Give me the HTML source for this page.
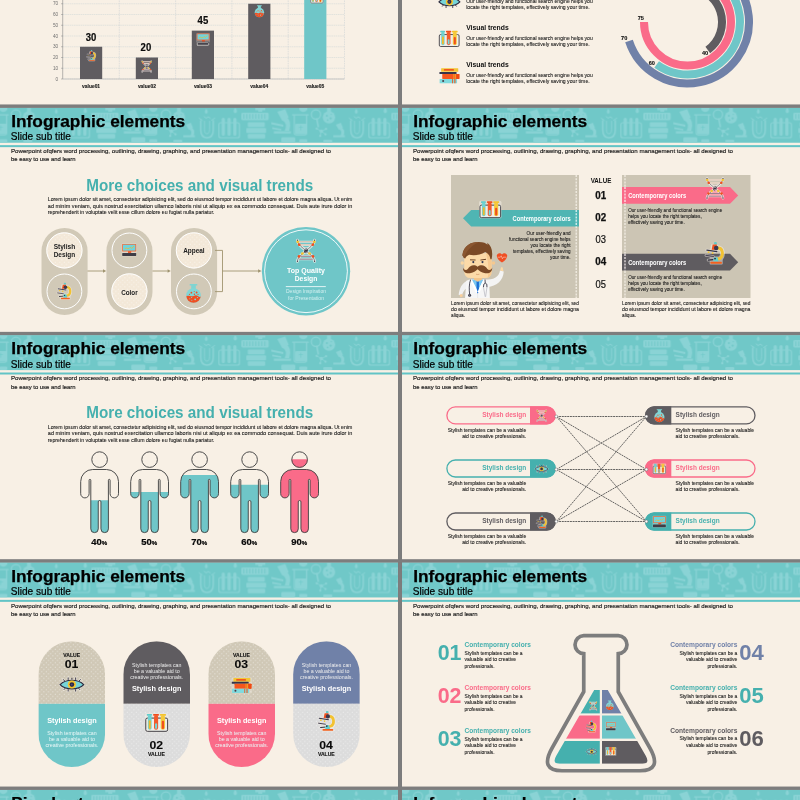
<!DOCTYPE html>
<html><head><meta charset="utf-8"><title>Infographic elements</title>
<style>html,body{margin:0;padding:0;background:#808080;overflow:hidden}svg{display:block;will-change:transform}</style></head>
<body>
<svg width="800" height="800" viewBox="0 0 800 800" font-family="'Liberation Sans', sans-serif">
<defs>
<symbol id="eye" viewBox="0 0 26 16" overflow="visible">
 <g stroke="#f4efe6" stroke-width="2.2" fill="#f4efe6" opacity=".85" stroke-linecap="round">
  <path d="M0.6,8.3 C6,2.2 20,2.2 25.4,8.3 C20,14.2 6,14.2 0.6,8.3Z"/>
  <path d="M9,2.6V0.8M17,2.6V0.8M5,4.2L3.6,2.6M21,4.2L22.4,2.6M9,13.8V15.4M17,13.8V15.4M5.4,12.4L4.2,13.8M20.6,12.4L21.8,13.8"/>
 </g>
 <path d="M9,2.8V1M17,2.8V1M5.2,4.3L4,2.9M20.8,4.3L22,2.9M9,13.6V15.2M17,13.6V15.2M5.6,12.3L4.6,13.5M20.4,12.3L21.4,13.5M13,2.5V1.4" stroke="#2f2c3e" stroke-width="1" stroke-linecap="round" fill="none"/>
 <path d="M0.4,8.3 C6,2 20,2 25.6,8.3 C20,14.4 6,14.4 0.4,8.3Z" fill="#76d4d8" stroke="#2f2c3e" stroke-width="1.3"/>
 <circle cx="13" cy="8.2" r="4.3" fill="#f6c42d"/>
 <circle cx="13" cy="8.2" r="2.5" fill="#2d2a47"/>
 <circle cx="12.8" cy="8.2" r="1" fill="#4b4a78"/>
</symbol>

<symbol id="tubes" viewBox="0 0 24 19" overflow="visible">
 <rect x="-.4" y="-.4" width="24.8" height="19.8" rx="2" fill="#f4efe6" opacity=".55"/>
 <rect x="0.6" y="4.6" width="22.8" height="13.8" rx="1.6" fill="#efeee8" stroke="#3c3a40" stroke-width="1"/>
 <rect x="1.6" y="0.2" width="5.6" height="2" rx=".8" fill="#5fcaca"/>
 <rect x="2.8" y="1.4" width="3.9" height="15.4" rx="1.9" fill="#6fd2d2"/>
 <rect x="3.7" y="6.8" width="2.1" height="9" rx="1" fill="#f3b829"/>
 <rect x="8.2" y="0.2" width="6.2" height="2" rx=".8" fill="#f04d1c"/>
 <rect x="9.2" y="1.4" width="4.3" height="15.4" rx="2.1" fill="#f25a2b"/>
 <rect x="10.3" y="10" width="2.1" height="5.8" rx="1" fill="#72dadb"/>
 <rect x="15.2" y="0.2" width="6.6" height="2" rx=".8" fill="#f4c22b"/>
 <rect x="16.2" y="1.4" width="4.5" height="15.4" rx="2.2" fill="#f6c93b"/>
 <rect x="17.3" y="7.4" width="2.4" height="8.5" rx="1.1" fill="#f0501e"/>
</symbol>

<symbol id="books" viewBox="0 0 20 15.5" overflow="visible">
 <rect x="-.5" y="-.4" width="21" height="16.2" rx="1.5" fill="#f4efe6" opacity=".3"/>
 <rect x="1.7" y="0.2" width="17" height="3.6" rx=".4" fill="#f3c534"/>
 <rect x="4.4" y="1.1" width="10" height="1.7" rx=".5" fill="#f2591f"/>
 <rect x="0" y="3.9" width="17" height="2" rx=".3" fill="#35344b"/>
 <rect x="2.8" y="5.9" width="17" height="5" rx=".4" fill="#f4571e"/>
 <rect x="13.9" y="5.9" width=".9" height="5" fill="#f3a52a"/>
 <rect x="15.4" y="5.9" width=".9" height="5" fill="#f3a52a"/>
 <rect x="16.8" y="5.9" width="3" height="5" rx=".4" fill="#ee4a12"/>
 <rect x="0.2" y="10.9" width="17.3" height="4.3" rx=".4" fill="#81dade"/>
 <circle cx="3.7" cy="13" r="1" fill="#4a3a44"/>
 <rect x="12.6" y="10.9" width=".9" height="4.3" fill="#f25a20"/>
 <rect x="14.8" y="10.9" width="1.1" height="4.3" fill="#f25a20"/>
</symbol>

<symbol id="micro" viewBox="0 0 17 20" overflow="visible">
 <g opacity=".55" fill="none" stroke="#f4efe6" stroke-linecap="round" stroke-linejoin="round">
  <path d="M11.5,5.5 C16.5,5.5 16.5,13 13.5,15.3" stroke-width="4.4"/>
  <path d="M6,3 L10,3 L10,7 L5.5,7Z" stroke-width="2" fill="#f4efe6"/>
  <path d="M1.3,7.4L10.5,8.8M0.4,12.3L7.4,13.3M2.4,16.6L7,16.2" stroke-width="2.4"/>
  <rect x="4.6" y="14" width="10.5" height="6" stroke-width="1.4" fill="#f4efe6"/>
 </g>
 <path d="M11.5,5.5 C16.3,5.5 16.6,12.6 13.6,15 L11.6,15.6" fill="none" stroke="#f2c231" stroke-width="2.7" stroke-linecap="round"/>
 <rect x="7.9" y="0" width="2.6" height="2.6" rx=".9" fill="#5fcaca"/>
 <path d="M6.6,2.4 L10.5,2.4 L10.5,7.4 L5.7,7.2Z" fill="#f0511f"/>
 <circle cx="9.9" cy="5.5" r="2.1" fill="#3a3850"/>
 <path d="M1.3,7.4L10.5,8.8" stroke="#35334a" stroke-width="1.1" stroke-linecap="round"/>
 <circle cx="2.9" cy="9.3" r=".85" fill="#f4c52e"/><circle cx="6.6" cy="10.2" r=".85" fill="#f4c52e"/>
 <path d="M0.5,12.3L7.4,13.3" stroke="#4a4555" stroke-width="1" stroke-linecap="round"/>
 <path d="M2.6,16.6L7,16.2" stroke="#2f2d3a" stroke-width="1" stroke-linecap="round"/>
 <path d="M7.4,18 V15.6 Q7.4,14 9,14 H10.4 Q11.8,14.4 11.9,18Z" fill="#62cfd0"/>
 <circle cx="8.8" cy="15.2" r=".85" fill="#2f2d3a"/>
 <rect x="4.6" y="18.1" width="10.5" height="1.8" rx=".4" fill="#f2611f"/>
</symbol>

<symbol id="dna" viewBox="0 0 20 23" overflow="visible">
 <g fill="none" stroke="#f6f1e8" stroke-width="2.8" opacity=".8" stroke-linecap="round">
  <path d="M1.4,0.9 C1.8,6 7,8.5 10,11.6 C13,14.8 18.2,17 18.6,22.1"/>
  <path d="M18.6,0.9 C18.2,6 13,8.5 10,11.6 C7,14.8 1.8,17 1.4,22.1"/>
  <path d="M3,2.5H17M4.5,5.7H15.5M4.5,17.1H15.5M3.2,20H16.8" stroke-width="2"/>
 </g>
 <path d="M3,2.5H17M4.6,5.7H15.4" stroke="#dcb9a6" stroke-width=".9"/>
 <path d="M4.6,17.1H15.4M3.2,20H16.8" stroke="#8e7184" stroke-width=".9"/>
 <path d="M6.5,8.4H13.5M6.5,14.6H13.5" stroke="#e9e3dc" stroke-width=".7"/>
 <path d="M1.4,0.9 C1.8,6 7,8.5 10,11.6 C13,14.8 18.2,17 18.6,22.1" fill="none" stroke="#5a4f60" stroke-width=".65"/>
 <path d="M18.6,0.9 C18.2,6 13,8.5 10,11.6 C7,14.8 1.8,17 1.4,22.1" fill="none" stroke="#5a4f60" stroke-width=".65"/>
 <ellipse cx="10" cy="11.6" rx="1.7" ry="2.3" fill="#3d3747" transform="rotate(35 10 11.6)"/>
 <ellipse cx="10" cy="10.4" rx="1" ry=".45" fill="#f4efe6"/><ellipse cx="10" cy="12.9" rx="1" ry=".45" fill="#f4efe6"/>
 <g fill="#f5c42d"><circle cx="1.7" cy="2.6" r="1.35"/><circle cx="18.3" cy="2.6" r="1.35"/><circle cx="6.4" cy="14.3" r="1.35"/><circle cx="13.6" cy="14.3" r="1.35"/></g>
 <g fill="#f0501e"><circle cx="3.2" cy="5.5" r="1.35"/><circle cx="16.8" cy="5.5" r="1.35"/><circle cx="3" cy="17.2" r="1.35"/><circle cx="17" cy="17.2" r="1.35"/></g>
 <g fill="#3d3747"><circle cx="1.4" cy="0.9" r=".6"/><circle cx="18.6" cy="0.9" r=".6"/><circle cx="1.4" cy="22.1" r=".6"/><circle cx="18.6" cy="22.1" r=".6"/></g>
</symbol>

<symbol id="monitor" viewBox="0 0 14.4 12.4" overflow="visible">
 <rect x="-.3" y="-.3" width="15" height="13" rx=".8" fill="#f4efe6" opacity=".35"/>
 <rect x="0.2" y="0.1" width="14" height="7.5" rx=".5" fill="#f26a3a"/>
 <rect x="1" y="0.9" width="12.4" height="5.9" fill="#70d4de"/>
 <path d="M2.6,5 L4.2,4.2 L5.6,4.8 L7.2,4.6 L8.4,3.4 L9.6,4.6 L11,3 L12.2,2.6" fill="none" stroke="#f2b92c" stroke-width=".8" stroke-linejoin="round"/>
 <rect x="6" y="7.5" width="3.2" height="1.6" fill="#f04e1e"/>
 <rect x="0.2" y="9.2" width="14" height="3" rx=".4" fill="#3f3d46"/>
</symbol>

<symbol id="flask" viewBox="0 0 14.6 18.8" overflow="visible">
 <clipPath id="flc"><circle cx="7.3" cy="11.4" r="7.3"/></clipPath>
 <rect x="3.4" y="0" width="7.8" height="1.5" rx=".7" fill="#7fd4d2"/>
 <rect x="5" y="1" width="4.6" height="5" fill="#7fd4d2"/>
 <circle cx="7.3" cy="11.4" r="7.3" fill="#82d6d6"/>
 <g clip-path="url(#flc)">
  <path d="M0,12 Q2,11.4 4,12 T8,11.6 T12,12.2 T15,11.8 V19 H0Z" fill="#f04f22"/>
 </g>
 <g fill="#f04f22"><circle cx="5.2" cy="8.6" r=".9"/><circle cx="10.4" cy="8.4" r=".9"/><circle cx="8.2" cy="10.2" r=".7"/><circle cx="8" cy="7.4" r=".5"/><circle cx="3.3" cy="10.2" r=".6"/><circle cx="11.8" cy="10.4" r=".6"/></g>
 <g fill="#82d6d6"><circle cx="9" cy="15.2" r=".9"/><circle cx="5.4" cy="13.4" r=".6"/><circle cx="3.6" cy="14.6" r=".5"/><circle cx="11.2" cy="13.4" r=".6"/><circle cx="5.6" cy="16.2" r=".5"/></g>
</symbol>

<pattern id="hp" width="150" height="40" patternUnits="userSpaceOnUse" x="47.3" y="0">
 <g fill="none" stroke="#8ad3d5" stroke-width="1.5" stroke-linecap="round" stroke-linejoin="round">
  <path d="M3.5,13 V22 Q3.5,30 9.7,30 Q16,30 16,22 V13"/><path d="M7.2,13.5 V21.5 Q7.2,26 9.7,26 Q12.3,26 12.3,21.5 V13.5" stroke-width=".9"/>
  <path d="M2,10.5 l3,2 M17.4,10.5 l-3,2 M7,9 l2,1.5 2,-1.5 2,1.5" stroke-width="1"/>
  <rect x="21.6" y="15" width="20.6" height="15" rx="2" stroke-width="1.2"/>
  <path d="M26,11.5 v15 M31.8,11.5 v15 M37.6,11.5 v15" stroke-width="3.2"/>
  <path d="M95.4,7.2 h15.6 M97,7.2 v17.8 q0,2.2 2.2,2.2 h8 q2.2,0 2.2,-2.2 v-17.8" stroke-width="1.2"/>
  <circle cx="118.7" cy="6.8" r="4.6" stroke-width="1.2"/><path d="M119.6,11.4 l1.4,7.4" stroke-width="1.6"/>
  <path d="M124,23.4 l-4.4,-2.4 M124,23.4 l4.6,-2 M124,23.4 l-1,4.6 M124,23.4 l4,3" stroke-width=".8"/>
 </g>
 <g fill="#8ad3d5">
  <rect x="44" y="5" width="27.4" height="7.4" rx="1.4"/>
  <rect x="50.5" y="14.6" width="17" height="4.6" rx="1"/><rect x="49" y="20.2" width="19.8" height="5" rx="1"/><rect x="50.5" y="26.2" width="17.4" height="4.6" rx="1"/>
  <path d="M80,4 l8,-2.4 3.4,8.2 -6.4,3.2z M88.6,9 q6.4,3.4 3.4,14 h-4.6 q3.4,-7.6 -2.4,-10.6z M76.6,23.4 h17 v2.4 h-17z M74,14.6 l12,2.4 v2 l-12,-2.4z M75,19.6 l9,1.6 v1.6 l-9,-1.6z"/>
  <rect x="98" y="16" width="11.4" height="10.2" rx="1.2"/>
  <circle cx="131.7" cy="9.6" r="6.2"/><rect x="129.8" y="0" width="3.8" height="4.6"/>
  <circle cx="124" cy="23.4" r="1.7"/><circle cx="119.4" cy="20.8" r="1.1"/><circle cx="128.8" cy="21.2" r="1.1"/><circle cx="123" cy="28.2" r="1.1"/><circle cx="128.2" cy="26.6" r="1.1"/>
  <path d="M138.6,17 l5,-2 2,5 -4,2z M144,19.6 q4.4,2.6 2.4,8 h-3 q2,-4.6 -1.6,-6z M136,27.6 h11.6 v1.8 h-11.6z"/>
  <path d="M9,1 q3,3.6 0,5 q-3,-1.4 0,-5z M38,0 q3.4,4 0,5.6 q-3.4,-1.6 0,-5.6z"/>
  <path d="M102,0 h8 v2 q-4,4.4 -8,0z"/>
  <rect x="84" y="29.6" width="14" height="5.4" rx="1.4"/><rect x="102" y="31.4" width="8" height="3.6" rx="1"/><rect x="126" y="32" width="9" height="3" rx="1"/>
  <path d="M58,0 h10 v2.4 h-10z M61,2.4 h4 v1.6 h-4z"/>
 </g>
 <g fill="#70c8c8"><circle cx="129.6" cy="8" r="1"/><circle cx="133.4" cy="10.6" r="1.1"/><circle cx="130.4" cy="12.4" r=".8"/><circle cx="134" cy="6.6" r=".7"/>
  <path d="M46.6,6.4v4.6M49.6,6.4v4.6M52.6,6.4v4.6M55.6,6.4v4.6M58.6,6.4v4.6M61.6,6.4v4.6M64.6,6.4v4.6M67.6,6.4v4.6" stroke="#70c8c8" stroke-width=".8"/>
  <path d="M103.6,17.6v5M101.6,19.6h4" stroke="#70c8c8" stroke-width=".7"/>
 </g>
</pattern>
<pattern id="dots" width="4.5" height="4.5" patternUnits="userSpaceOnUse">
 <circle cx="1.2" cy="1.2" r=".48" fill="#fff" opacity=".8"/><circle cx="3.45" cy="3.45" r=".48" fill="#fff" opacity=".8"/>
</pattern>
</defs>
<rect x="0.00" y="0.00" width="800.00" height="800.00" fill="#7d7d7d"/>
<rect x="0.00" y="-119.60" width="398.00" height="224.50" fill="#f8f0e5"/>
<rect x="0.00" y="107.75" width="398.00" height="225.00" fill="#f8f0e5"/>
<rect x="0.00" y="107.75" width="398.00" height="35.00" fill="#70c8c8"/>
<g transform="translate(0,107.75)"><rect x="0" y="0" width="398" height="35" fill="url(#hp)"/></g>
<rect x="0.00" y="145.15" width="398.00" height="2.00" fill="#62c4c6"/>
<text x="11.20" y="126.95" font-size="17.2" fill="#000" font-weight="bold" textLength="174.00" lengthAdjust="spacingAndGlyphs" stroke="#000" stroke-width=".25">Infographic elements</text>
<text x="10.80" y="140.45" font-size="10" fill="#000" stroke="#000" stroke-width=".2" textLength="60.00" lengthAdjust="spacingAndGlyphs">Slide sub title</text>
<text x="11.00" y="152.85" font-size="5.9" fill="#1a1a1a" stroke="#1a1a1a" stroke-width="0.16" textLength="320.00" lengthAdjust="spacingAndGlyphs">Powerpoint ofqfers word processing, outlining, drawing, graphing, and presentation management tools- all designed to</text>
<text x="11.00" y="161.35" font-size="5.9" fill="#1a1a1a" stroke="#1a1a1a" stroke-width="0.16" textLength="64.50" lengthAdjust="spacingAndGlyphs">be easy to use and learn</text>
<rect x="0.00" y="335.10" width="398.00" height="225.00" fill="#f8f0e5"/>
<rect x="0.00" y="335.10" width="398.00" height="35.00" fill="#70c8c8"/>
<g transform="translate(0,335.10)"><rect x="0" y="0" width="398" height="35" fill="url(#hp)"/></g>
<rect x="0.00" y="372.50" width="398.00" height="2.00" fill="#62c4c6"/>
<text x="11.20" y="354.30" font-size="17.2" fill="#000" font-weight="bold" textLength="174.00" lengthAdjust="spacingAndGlyphs" stroke="#000" stroke-width=".25">Infographic elements</text>
<text x="10.80" y="367.80" font-size="10" fill="#000" stroke="#000" stroke-width=".2" textLength="60.00" lengthAdjust="spacingAndGlyphs">Slide sub title</text>
<text x="11.00" y="380.20" font-size="5.9" fill="#1a1a1a" stroke="#1a1a1a" stroke-width="0.16" textLength="320.00" lengthAdjust="spacingAndGlyphs">Powerpoint ofqfers word processing, outlining, drawing, graphing, and presentation management tools- all designed to</text>
<text x="11.00" y="388.70" font-size="5.9" fill="#1a1a1a" stroke="#1a1a1a" stroke-width="0.16" textLength="64.50" lengthAdjust="spacingAndGlyphs">be easy to use and learn</text>
<rect x="0.00" y="562.45" width="398.00" height="225.00" fill="#f8f0e5"/>
<rect x="0.00" y="562.45" width="398.00" height="35.00" fill="#70c8c8"/>
<g transform="translate(0,562.45)"><rect x="0" y="0" width="398" height="35" fill="url(#hp)"/></g>
<rect x="0.00" y="599.85" width="398.00" height="2.00" fill="#62c4c6"/>
<text x="11.20" y="581.65" font-size="17.2" fill="#000" font-weight="bold" textLength="174.00" lengthAdjust="spacingAndGlyphs" stroke="#000" stroke-width=".25">Infographic elements</text>
<text x="10.80" y="595.15" font-size="10" fill="#000" stroke="#000" stroke-width=".2" textLength="60.00" lengthAdjust="spacingAndGlyphs">Slide sub title</text>
<text x="11.00" y="607.55" font-size="5.9" fill="#1a1a1a" stroke="#1a1a1a" stroke-width="0.16" textLength="320.00" lengthAdjust="spacingAndGlyphs">Powerpoint ofqfers word processing, outlining, drawing, graphing, and presentation management tools- all designed to</text>
<text x="11.00" y="616.05" font-size="5.9" fill="#1a1a1a" stroke="#1a1a1a" stroke-width="0.16" textLength="64.50" lengthAdjust="spacingAndGlyphs">be easy to use and learn</text>
<rect x="0.00" y="789.80" width="398.00" height="225.00" fill="#f8f0e5"/>
<rect x="0.00" y="789.80" width="398.00" height="35.00" fill="#70c8c8"/>
<g transform="translate(0,789.80)"><rect x="0" y="0" width="398" height="35" fill="url(#hp)"/></g>
<rect x="0.00" y="827.20" width="398.00" height="2.00" fill="#62c4c6"/>
<text x="11.20" y="809.00" font-size="17.2" fill="#000" font-weight="bold" stroke="#000" stroke-width=".25">Pie chart</text>
<text x="10.80" y="822.50" font-size="10" fill="#000" stroke="#000" stroke-width=".2" textLength="60.00" lengthAdjust="spacingAndGlyphs">Slide sub title</text>
<text x="11.00" y="834.90" font-size="5.9" fill="#1a1a1a" stroke="#1a1a1a" stroke-width="0.16" textLength="320.00" lengthAdjust="spacingAndGlyphs">Powerpoint ofqfers word processing, outlining, drawing, graphing, and presentation management tools- all designed to</text>
<text x="11.00" y="843.40" font-size="5.9" fill="#1a1a1a" stroke="#1a1a1a" stroke-width="0.16" textLength="64.50" lengthAdjust="spacingAndGlyphs">be easy to use and learn</text>
<rect x="402.00" y="-119.60" width="398.00" height="224.50" fill="#f8f0e5"/>
<rect x="402.00" y="107.75" width="398.00" height="225.00" fill="#f8f0e5"/>
<rect x="402.00" y="107.75" width="398.00" height="35.00" fill="#70c8c8"/>
<g transform="translate(402,107.75)"><rect x="0" y="0" width="398" height="35" fill="url(#hp)"/></g>
<rect x="402.00" y="145.15" width="398.00" height="2.00" fill="#62c4c6"/>
<text x="413.20" y="126.95" font-size="17.2" fill="#000" font-weight="bold" textLength="174.00" lengthAdjust="spacingAndGlyphs" stroke="#000" stroke-width=".25">Infographic elements</text>
<text x="412.80" y="140.45" font-size="10" fill="#000" stroke="#000" stroke-width=".2" textLength="60.00" lengthAdjust="spacingAndGlyphs">Slide sub title</text>
<text x="413.00" y="152.85" font-size="5.9" fill="#1a1a1a" stroke="#1a1a1a" stroke-width="0.16" textLength="320.00" lengthAdjust="spacingAndGlyphs">Powerpoint ofqfers word processing, outlining, drawing, graphing, and presentation management tools- all designed to</text>
<text x="413.00" y="161.35" font-size="5.9" fill="#1a1a1a" stroke="#1a1a1a" stroke-width="0.16" textLength="64.50" lengthAdjust="spacingAndGlyphs">be easy to use and learn</text>
<rect x="402.00" y="335.10" width="398.00" height="225.00" fill="#f8f0e5"/>
<rect x="402.00" y="335.10" width="398.00" height="35.00" fill="#70c8c8"/>
<g transform="translate(402,335.10)"><rect x="0" y="0" width="398" height="35" fill="url(#hp)"/></g>
<rect x="402.00" y="372.50" width="398.00" height="2.00" fill="#62c4c6"/>
<text x="413.20" y="354.30" font-size="17.2" fill="#000" font-weight="bold" textLength="174.00" lengthAdjust="spacingAndGlyphs" stroke="#000" stroke-width=".25">Infographic elements</text>
<text x="412.80" y="367.80" font-size="10" fill="#000" stroke="#000" stroke-width=".2" textLength="60.00" lengthAdjust="spacingAndGlyphs">Slide sub title</text>
<text x="413.00" y="380.20" font-size="5.9" fill="#1a1a1a" stroke="#1a1a1a" stroke-width="0.16" textLength="320.00" lengthAdjust="spacingAndGlyphs">Powerpoint ofqfers word processing, outlining, drawing, graphing, and presentation management tools- all designed to</text>
<text x="413.00" y="388.70" font-size="5.9" fill="#1a1a1a" stroke="#1a1a1a" stroke-width="0.16" textLength="64.50" lengthAdjust="spacingAndGlyphs">be easy to use and learn</text>
<rect x="402.00" y="562.45" width="398.00" height="225.00" fill="#f8f0e5"/>
<rect x="402.00" y="562.45" width="398.00" height="35.00" fill="#70c8c8"/>
<g transform="translate(402,562.45)"><rect x="0" y="0" width="398" height="35" fill="url(#hp)"/></g>
<rect x="402.00" y="599.85" width="398.00" height="2.00" fill="#62c4c6"/>
<text x="413.20" y="581.65" font-size="17.2" fill="#000" font-weight="bold" textLength="174.00" lengthAdjust="spacingAndGlyphs" stroke="#000" stroke-width=".25">Infographic elements</text>
<text x="412.80" y="595.15" font-size="10" fill="#000" stroke="#000" stroke-width=".2" textLength="60.00" lengthAdjust="spacingAndGlyphs">Slide sub title</text>
<text x="413.00" y="607.55" font-size="5.9" fill="#1a1a1a" stroke="#1a1a1a" stroke-width="0.16" textLength="320.00" lengthAdjust="spacingAndGlyphs">Powerpoint ofqfers word processing, outlining, drawing, graphing, and presentation management tools- all designed to</text>
<text x="413.00" y="616.05" font-size="5.9" fill="#1a1a1a" stroke="#1a1a1a" stroke-width="0.16" textLength="64.50" lengthAdjust="spacingAndGlyphs">be easy to use and learn</text>
<rect x="402.00" y="789.80" width="398.00" height="225.00" fill="#f8f0e5"/>
<rect x="402.00" y="789.80" width="398.00" height="35.00" fill="#70c8c8"/>
<g transform="translate(402,789.80)"><rect x="0" y="0" width="398" height="35" fill="url(#hp)"/></g>
<rect x="402.00" y="827.20" width="398.00" height="2.00" fill="#62c4c6"/>
<text x="413.20" y="809.00" font-size="17.2" fill="#000" font-weight="bold" textLength="174.00" lengthAdjust="spacingAndGlyphs" stroke="#000" stroke-width=".25">Infographic elements</text>
<text x="412.80" y="822.50" font-size="10" fill="#000" stroke="#000" stroke-width=".2" textLength="60.00" lengthAdjust="spacingAndGlyphs">Slide sub title</text>
<text x="413.00" y="834.90" font-size="5.9" fill="#1a1a1a" stroke="#1a1a1a" stroke-width="0.16" textLength="320.00" lengthAdjust="spacingAndGlyphs">Powerpoint ofqfers word processing, outlining, drawing, graphing, and presentation management tools- all designed to</text>
<text x="413.00" y="843.40" font-size="5.9" fill="#1a1a1a" stroke="#1a1a1a" stroke-width="0.16" textLength="64.50" lengthAdjust="spacingAndGlyphs">be easy to use and learn</text>
<path d="M63.0,79.00H344.5" stroke="#d9dcda" stroke-width=".7" stroke-dasharray="1.6,.6"/>
<path d="M61.0,79.00H63.0" stroke="#8a8a8a" stroke-width=".5"/>
<text x="58.20" y="80.70" font-size="4.7" fill="#707070" text-anchor="end">0</text>
<path d="M63.0,68.25H344.5" stroke="#d9dcda" stroke-width=".7" stroke-dasharray="1.6,.6"/>
<path d="M61.0,68.25H63.0" stroke="#8a8a8a" stroke-width=".5"/>
<text x="58.20" y="69.95" font-size="4.7" fill="#707070" text-anchor="end">10</text>
<path d="M63.0,57.50H344.5" stroke="#d9dcda" stroke-width=".7" stroke-dasharray="1.6,.6"/>
<path d="M61.0,57.50H63.0" stroke="#8a8a8a" stroke-width=".5"/>
<text x="58.20" y="59.20" font-size="4.7" fill="#707070" text-anchor="end">20</text>
<path d="M63.0,46.75H344.5" stroke="#d9dcda" stroke-width=".7" stroke-dasharray="1.6,.6"/>
<path d="M61.0,46.75H63.0" stroke="#8a8a8a" stroke-width=".5"/>
<text x="58.20" y="48.45" font-size="4.7" fill="#707070" text-anchor="end">30</text>
<path d="M63.0,36.00H344.5" stroke="#d9dcda" stroke-width=".7" stroke-dasharray="1.6,.6"/>
<path d="M61.0,36.00H63.0" stroke="#8a8a8a" stroke-width=".5"/>
<text x="58.20" y="37.70" font-size="4.7" fill="#707070" text-anchor="end">40</text>
<path d="M63.0,25.25H344.5" stroke="#d9dcda" stroke-width=".7" stroke-dasharray="1.6,.6"/>
<path d="M61.0,25.25H63.0" stroke="#8a8a8a" stroke-width=".5"/>
<text x="58.20" y="26.95" font-size="4.7" fill="#707070" text-anchor="end">50</text>
<path d="M63.0,14.50H344.5" stroke="#d9dcda" stroke-width=".7" stroke-dasharray="1.6,.6"/>
<path d="M61.0,14.50H63.0" stroke="#8a8a8a" stroke-width=".5"/>
<text x="58.20" y="16.20" font-size="4.7" fill="#707070" text-anchor="end">60</text>
<path d="M63.0,3.75H344.5" stroke="#d9dcda" stroke-width=".7" stroke-dasharray="1.6,.6"/>
<path d="M61.0,3.75H63.0" stroke="#8a8a8a" stroke-width=".5"/>
<text x="58.20" y="5.45" font-size="4.7" fill="#707070" text-anchor="end">70</text>
<path d="M119.30,-2V79.0" stroke="#d5d9d8" stroke-width=".7" stroke-dasharray="1.6,.8"/>
<path d="M175.60,-2V79.0" stroke="#d5d9d8" stroke-width=".7" stroke-dasharray="1.6,.8"/>
<path d="M231.90,-2V79.0" stroke="#d5d9d8" stroke-width=".7" stroke-dasharray="1.6,.8"/>
<path d="M288.20,-2V79.0" stroke="#d5d9d8" stroke-width=".7" stroke-dasharray="1.6,.8"/>
<path d="M344.50,-2V79.0" stroke="#d5d9d8" stroke-width=".7" stroke-dasharray="1.6,.8"/>
<path d="M62.7,-2V79.0" stroke="#8a8a8a" stroke-width=".6"/>
<path d="M63.0,79.0H344.5" stroke="#b8b8b8" stroke-width=".7"/>
<rect x="80.00" y="46.75" width="22.20" height="32.25" fill="#5f5c60"/>
<text x="91.10" y="87.80" font-size="5.0" fill="#1a1a1a" text-anchor="middle" font-weight="bold" stroke="#1a1a1a" stroke-width=".12" textLength="18.00" lengthAdjust="spacingAndGlyphs">value01</text>
<text x="91.10" y="40.55" font-size="11" fill="#0a0a0a" text-anchor="middle" font-weight="bold" textLength="10.60" lengthAdjust="spacingAndGlyphs" stroke="#0a0a0a" stroke-width=".2">30</text>
<rect x="135.80" y="57.50" width="22.20" height="21.50" fill="#5f5c60"/>
<text x="146.90" y="87.80" font-size="5.0" fill="#1a1a1a" text-anchor="middle" font-weight="bold" stroke="#1a1a1a" stroke-width=".12" textLength="18.00" lengthAdjust="spacingAndGlyphs">value02</text>
<text x="145.90" y="51.30" font-size="11" fill="#0a0a0a" text-anchor="middle" font-weight="bold" textLength="10.60" lengthAdjust="spacingAndGlyphs" stroke="#0a0a0a" stroke-width=".2">20</text>
<rect x="191.80" y="30.62" width="22.20" height="48.38" fill="#5f5c60"/>
<text x="202.90" y="87.80" font-size="5.0" fill="#1a1a1a" text-anchor="middle" font-weight="bold" stroke="#1a1a1a" stroke-width=".12" textLength="18.00" lengthAdjust="spacingAndGlyphs">value03</text>
<text x="202.90" y="24.43" font-size="11" fill="#0a0a0a" text-anchor="middle" font-weight="bold" textLength="10.60" lengthAdjust="spacingAndGlyphs" stroke="#0a0a0a" stroke-width=".2">45</text>
<rect x="248.20" y="3.75" width="22.20" height="75.25" fill="#5f5c60"/>
<text x="259.30" y="87.80" font-size="5.0" fill="#1a1a1a" text-anchor="middle" font-weight="bold" stroke="#1a1a1a" stroke-width=".12" textLength="18.00" lengthAdjust="spacingAndGlyphs">value04</text>
<rect x="304.20" y="-39.25" width="22.20" height="118.25" fill="#6fc6c8"/>
<text x="315.30" y="87.80" font-size="5.0" fill="#1a1a1a" text-anchor="middle" font-weight="bold" stroke="#1a1a1a" stroke-width=".12" textLength="18.00" lengthAdjust="spacingAndGlyphs">value05</text>
<use href="#micro" x="86.60" y="50.00" width="9.20" height="11.00"/>
<use href="#dna" x="141.40" y="60.20" width="10.60" height="12.60"/>
<use href="#monitor" x="196.60" y="33.40" width="13.00" height="11.20"/>
<rect x="197.6" y="42.8" width="11" height="2.6" fill="none" stroke="#e8e4dc" stroke-width=".5"/>
<use href="#flask" x="254.60" y="5.20" width="9.60" height="12.20"/>
<use href="#tubes" x="310.40" y="-7.80" width="13.00" height="12.00"/>
<text x="466.20" y="-7.10" font-size="7.2" fill="#0d0d0d" font-weight="bold" textLength="42.50" lengthAdjust="spacingAndGlyphs">Visual trends</text>
<text x="466.20" y="2.70" font-size="5.5" fill="#1a1a1a" stroke="#1a1a1a" stroke-width="0.09" textLength="126.50" lengthAdjust="spacingAndGlyphs">Our user-friendly and functional search engine helps you</text>
<text x="466.20" y="9.00" font-size="5.5" fill="#1a1a1a" stroke="#1a1a1a" stroke-width="0.09" textLength="123.50" lengthAdjust="spacingAndGlyphs">locate the right templates, effectively saving your time.</text>
<text x="466.20" y="29.90" font-size="7.2" fill="#0d0d0d" font-weight="bold" textLength="42.50" lengthAdjust="spacingAndGlyphs">Visual trends</text>
<text x="466.20" y="39.70" font-size="5.5" fill="#1a1a1a" stroke="#1a1a1a" stroke-width="0.09" textLength="126.50" lengthAdjust="spacingAndGlyphs">Our user-friendly and functional search engine helps you</text>
<text x="466.20" y="46.00" font-size="5.5" fill="#1a1a1a" stroke="#1a1a1a" stroke-width="0.09" textLength="123.50" lengthAdjust="spacingAndGlyphs">locate the right templates, effectively saving your time.</text>
<text x="466.20" y="66.90" font-size="7.2" fill="#0d0d0d" font-weight="bold" textLength="42.50" lengthAdjust="spacingAndGlyphs">Visual trends</text>
<text x="466.20" y="76.70" font-size="5.5" fill="#1a1a1a" stroke="#1a1a1a" stroke-width="0.09" textLength="126.50" lengthAdjust="spacingAndGlyphs">Our user-friendly and functional search engine helps you</text>
<text x="466.20" y="83.00" font-size="5.5" fill="#1a1a1a" stroke="#1a1a1a" stroke-width="0.09" textLength="123.50" lengthAdjust="spacingAndGlyphs">locate the right templates, effectively saving your time.</text>
<use href="#eye" x="438.60" y="-5.00" width="21.60" height="13.30"/>
<use href="#tubes" x="438.80" y="30.40" width="20.80" height="16.80"/>
<use href="#books" x="439.00" y="68.00" width="21.00" height="15.60"/>
<path d="M687.5,-39.5 A61.5,61.5 0 1 1 629.01,41.00" fill="none" stroke="#7081a8" stroke-width="8"/>
<path d="M687.5,-30.5 A52.5,52.5 0 1 1 656.64,64.47" fill="none" stroke="#6fc6c8" stroke-width="8"/>
<path d="M687.5,-21.5 A43.5,43.5 0 1 1 644.00,22.00" fill="none" stroke="#fa6b89" stroke-width="8"/>
<path d="M687.5,-12.5 A34.5,34.5 0 0 1 707.78,49.91" fill="none" stroke="#5f5c60" stroke-width="8"/>
<text x="640.80" y="20.00" font-size="5.6" fill="#111" text-anchor="middle" font-weight="bold" stroke="#111" stroke-width=".12">75</text>
<text x="624.20" y="39.50" font-size="5.6" fill="#111" text-anchor="middle" font-weight="bold" stroke="#111" stroke-width=".12">70</text>
<text x="651.80" y="65.00" font-size="5.6" fill="#111" text-anchor="middle" font-weight="bold" stroke="#111" stroke-width=".12">60</text>
<text x="705.00" y="55.00" font-size="5.6" fill="#111" text-anchor="middle" font-weight="bold" stroke="#111" stroke-width=".12">40</text>
<text x="86.20" y="190.55" font-size="15.9" fill="#45b0ae" font-weight="bold" textLength="227.00" lengthAdjust="spacingAndGlyphs">More choices and visual trends</text>
<text x="47.80" y="201.25" font-size="5.0" fill="#1a1a1a" stroke="#1a1a1a" stroke-width="0.09" textLength="304.50" lengthAdjust="spacingAndGlyphs">Lorem ipsum dolor sit amet, consectetur adipisicing elit, sed do eiusmod tempor incididunt ut labore et dolore magna aliqua. Ut enim</text>
<text x="47.80" y="207.75" font-size="5.0" fill="#1a1a1a" stroke="#1a1a1a" stroke-width="0.09" textLength="304.50" lengthAdjust="spacingAndGlyphs">ad minim veniam, quis nostrud exercitation ullamco laboris nisi ut aliquip ex ea commodo consequat. Duis aute irure dolor in</text>
<text x="47.80" y="214.25" font-size="5.0" fill="#1a1a1a" stroke="#1a1a1a" stroke-width="0.09" textLength="166.50" lengthAdjust="spacingAndGlyphs">reprehenderit in voluptate velit esse cillum dolore eu fugiat nulla pariatur.</text>
<rect x="41.50" y="228.00" width="46.10" height="87.00" fill="#d1c9b7" rx="23.05"/>
<rect x="106.40" y="228.00" width="46.10" height="87.00" fill="#d1c9b7" rx="23.05"/>
<rect x="171.00" y="228.00" width="46.10" height="87.00" fill="#d1c9b7" rx="23.05"/>
<circle cx="64.4" cy="250.4" r="18" fill="#f3e8d8"/><circle cx="64.4" cy="250.4" r="18" fill="url(#dots)"/><circle cx="64.4" cy="250.4" r="17.6" fill="none" stroke="#fff" stroke-width="1"/>
<circle cx="64.4" cy="291.4" r="17.4" fill="none" stroke="#fff" stroke-width="1"/>
<circle cx="129.4" cy="250.4" r="17.4" fill="none" stroke="#fff" stroke-width="1"/>
<circle cx="129.4" cy="291.4" r="18" fill="#f3e8d8"/><circle cx="129.4" cy="291.4" r="18" fill="url(#dots)"/><circle cx="129.4" cy="291.4" r="17.6" fill="none" stroke="#fff" stroke-width="1"/>
<circle cx="193.9" cy="250.4" r="18" fill="#f3e8d8"/><circle cx="193.9" cy="250.4" r="18" fill="url(#dots)"/><circle cx="193.9" cy="250.4" r="17.6" fill="none" stroke="#fff" stroke-width="1"/>
<circle cx="193.9" cy="291.4" r="17.4" fill="none" stroke="#fff" stroke-width="1"/>
<text x="64.40" y="249.40" font-size="6.6" fill="#222" text-anchor="middle" font-weight="bold" textLength="21.50" lengthAdjust="spacingAndGlyphs">Stylish</text>
<text x="64.40" y="257.00" font-size="6.6" fill="#222" text-anchor="middle" font-weight="bold" textLength="21.50" lengthAdjust="spacingAndGlyphs">Design</text>
<text x="129.40" y="294.90" font-size="6.6" fill="#222" text-anchor="middle" font-weight="bold" textLength="16.50" lengthAdjust="spacingAndGlyphs">Color</text>
<text x="193.90" y="253.20" font-size="6.6" fill="#222" text-anchor="middle" font-weight="bold" textLength="21.50" lengthAdjust="spacingAndGlyphs">Appeal</text>
<use href="#micro" x="57.20" y="282.20" width="14.20" height="17.60"/>
<use href="#monitor" x="122.00" y="243.80" width="14.40" height="12.40"/>
<use href="#flask" x="186.20" y="284.10" width="14.60" height="18.80"/>
<path d="M87.5,271H104.2" stroke="#a0946f" stroke-width=".9"/><path d="M106.2,271l-3.2,-1.7v3.4z" fill="#a0946f"/>
<path d="M152.5,271H168.8" stroke="#a0946f" stroke-width=".9"/><path d="M170.8,271l-3.2,-1.7v3.4z" fill="#a0946f"/>
<path d="M215,250.4H222.5V291.6H215" fill="none" stroke="#a0946f" stroke-width=".9"/>
<path d="M222.5,271H259" stroke="#a0946f" stroke-width=".9"/><path d="M261.5,271l-3.4,-1.8v3.6z" fill="#a0946f"/>
<circle cx="306" cy="271.2" r="44.2" fill="#6fc6c8"/><circle cx="306" cy="271.2" r="41.4" fill="none" stroke="#fff" stroke-width=".9"/>
<use href="#dna" x="296.00" y="239.20" width="20.00" height="23.00"/>
<text x="306.00" y="272.80" font-size="6.6" fill="#fff" text-anchor="middle" font-weight="bold" textLength="38.00" lengthAdjust="spacingAndGlyphs">Top Quality</text>
<text x="306.00" y="280.60" font-size="6.6" fill="#fff" text-anchor="middle" font-weight="bold" textLength="22.50" lengthAdjust="spacingAndGlyphs">Design</text>
<path d="M285.8,286.6H325.8" stroke="#fff" stroke-width=".8"/>
<text x="306.00" y="293.30" font-size="5.1" fill="#d4f0f0" text-anchor="middle" textLength="40.00" lengthAdjust="spacingAndGlyphs">Design Inspiration</text>
<text x="306.00" y="299.60" font-size="5.1" fill="#d4f0f0" text-anchor="middle" textLength="36.00" lengthAdjust="spacingAndGlyphs">for Presentation</text>
<rect x="451.00" y="175.00" width="128.00" height="123.00" fill="#ccc5b4"/>
<path d="M576.2,175V298" stroke="#f6f2e9" stroke-width="1.15" stroke-dasharray="2.1,1.1"/>
<path d="M463,218.2L471.2,210H579V226.4H471.2Z" fill="#4fb5b3"/>
<path d="M576.2,210V226.4" stroke="#eefaf9" stroke-width="1.15" stroke-dasharray="2.1,1.1"/>
<use href="#tubes" x="479.40" y="201.00" width="21.80" height="17.20"/>
<text x="570.60" y="220.90" font-size="6.3" fill="#fff" text-anchor="end" font-weight="bold" textLength="58.00" lengthAdjust="spacingAndGlyphs">Contemporary colors</text>
<text x="570.60" y="234.50" font-size="5.0" fill="#1a1a1a" text-anchor="end" stroke="#1a1a1a" stroke-width="0.09" textLength="44.00" lengthAdjust="spacingAndGlyphs">Our user-friendly and</text>
<text x="570.60" y="240.55" font-size="5.0" fill="#1a1a1a" text-anchor="end" stroke="#1a1a1a" stroke-width="0.09" textLength="61.50" lengthAdjust="spacingAndGlyphs">functional search engine helps</text>
<text x="570.60" y="246.60" font-size="5.0" fill="#1a1a1a" text-anchor="end" stroke="#1a1a1a" stroke-width="0.09" textLength="40.00" lengthAdjust="spacingAndGlyphs">you locate the right</text>
<text x="570.60" y="252.65" font-size="5.0" fill="#1a1a1a" text-anchor="end" stroke="#1a1a1a" stroke-width="0.09" textLength="57.50" lengthAdjust="spacingAndGlyphs">templates, effectively saving</text>
<text x="570.60" y="258.70" font-size="5.0" fill="#1a1a1a" text-anchor="end" stroke="#1a1a1a" stroke-width="0.09" textLength="20.50" lengthAdjust="spacingAndGlyphs">your time.</text>
<clipPath id="docclip"><rect x="451" y="236" width="128" height="62"/></clipPath><g clip-path="url(#docclip)"><path d="M467.20,280.80 C462.00,283.20 459.60,288.00 458.64,294.80 L462.00,295.60 C463.20,290.40 466.00,288.00 468.80,287.20Z" fill="#f1f1f1"/><circle cx="461.2" cy="295.6" r="1.5" fill="#f9cf9c"/><path d="M485.20,279.60 C493.20,279.60 498.80,277.60 500.00,270.40 L503.76,271.60 C503.20,280.80 496.40,286.40 487.60,287.20Z" fill="#f4f4f4"/><path d="M500.24,270.56 L500.80,268.00 Q502.00,266.00 502.80,268.00 L503.44,271.20Z" fill="#fbd8a4"/><path d="M466.40,280.80 Q468.40,279.20 472.40,279.20 L483.60,279.20 Q487.60,279.60 489.20,283.20 L490.00,300.80 L464.80,300.80 Z" fill="#f6f6f6"/><path d="M477.60,288.80 L477.60,300.80" stroke="#dcdcdc" stroke-width=".5"/><path d="M471.76,279.60 L483.44,279.60 L477.84,291.20Z" fill="#7cc8f2"/><path d="M476.56,281.20 L478.96,281.20 L478.96,292.00 L477.76,293.60 L476.56,292.00Z" fill="#1e6fd2"/><path d="M471.76,279.60 L470.00,280.80 L476.40,293.60 L477.60,291.20Z" fill="#ffffff"/><path d="M483.44,279.60 L485.20,280.80 L478.96,293.60 L477.84,291.20Z" fill="#ffffff"/><path d="M470.64,279.60 C468.80,284.00 469.20,290.40 469.60,294.00" fill="none" stroke="#3b3a48" stroke-width=".9"/><circle cx="469.6" cy="295.2" r="1.5" fill="#3b3a48"/><circle cx="469.6" cy="295.2" r=".6" fill="#8a8a9a"/><path d="M485.04,279.60 L485.20,283.20" fill="none" stroke="#3b3a48" stroke-width=".9"/><path d="M483.44,287.20 Q483.20,283.20 485.36,283.20 Q487.44,283.20 486.96,287.20" fill="none" stroke="#3b3a48" stroke-width=".9"/><path d="M483.44,287.20 L485.20,296.80 M486.96,287.20 L485.60,296.80" fill="none" stroke="#a9a9b3" stroke-width=".6"/><path d="M474.00,276.00 H482.00 V279.84 L477.84,281.76 L474.00,279.84Z" fill="#f3c58b"/><circle cx="462.3" cy="263" r="1.7" fill="#fbd8a4"/><circle cx="493.5" cy="263" r="1.7" fill="#f5c88f"/><path d="M464.24,253.20 H491.60 V271.20 Q491.60,278.00 485.20,278.00 L470.64,278.00 Q464.24,278.00 464.24,271.20Z" fill="#fcdaa8"/><path d="M486.00,253.20 H491.60 V271.20 Q491.60,278.00 485.20,278.00 L487.60,278.00 Q490.00,268.00 486.00,253.20Z" fill="#f6c990"/><path d="M462.40,255.20 C463.60,244.80 472.40,241.60 478.80,242.00 C483.60,242.00 486.00,243.20 487.60,244.80 L487.20,242.80 C491.60,245.60 493.20,252.00 491.60,259.20 L490.40,259.20 C490.00,256.00 488.40,253.60 485.20,252.00 C480.40,255.20 474.00,255.60 469.20,254.80 C467.20,255.60 466.00,256.80 465.20,258.40 L464.00,258.00Z" fill="#7b4a26"/><path d="M462.40,255.20 C463.60,244.80 472.40,241.60 478.80,242.00 C474.00,244.80 467.60,248.00 464.00,258.00Z" fill="#8a5630"/><path d="M470.40,259.84 L475.20,260.00 M480.80,260.00 L485.60,259.36" stroke="#5d3517" stroke-width=".9" stroke-linecap="round"/><circle cx="473.3" cy="262.1" r="1.05" fill="#2e3550"/><circle cx="482.5" cy="262.1" r="1.05" fill="#2e3550"/><path d="M477.60,266.80 C474.00,264.00 470.00,265.60 468.00,268.80 C466.00,271.20 463.60,269.60 462.96,267.60 C462.80,272.00 466.00,274.00 470.00,273.20 C474.00,272.40 476.40,270.40 477.60,269.20 C478.80,270.40 481.20,272.40 485.20,273.20 C489.20,274.00 492.40,272.00 492.24,267.60 C491.60,269.60 489.20,271.20 487.20,268.80 C485.20,265.60 481.20,264.00 477.60,266.80Z" fill="#7b4a26"/><path d="M476.00,274.24 Q477.60,274.88 479.44,274.24" stroke="#c98a5a" stroke-width=".6" fill="none"/></g><path d="M502,262.6 C498.5,260 496.6,257.6 496.8,255.6 C497,253 500.4,252.2 502,254.6 C503.6,252.2 507,253 507.2,255.6 C507.4,257.6 505.5,260 502,262.6Z" fill="#f04e23"/><path d="M497.6,257.2H500.4L501.2,255.8L502.4,258.8L503.2,257.2H506.4" stroke="#fbe3d6" stroke-width=".5" fill="none"/>
<text x="451.00" y="304.60" font-size="5.0" fill="#1a1a1a" stroke="#1a1a1a" stroke-width="0.09" textLength="128.00" lengthAdjust="spacingAndGlyphs">Lorem ipsum dolor sit amet, consectetur adipisicing elit, sed</text>
<text x="622.00" y="304.60" font-size="5.0" fill="#1a1a1a" stroke="#1a1a1a" stroke-width="0.09" textLength="128.50" lengthAdjust="spacingAndGlyphs">Lorem ipsum dolor sit amet, consectetur adipisicing elit, sed</text>
<text x="451.00" y="310.70" font-size="5.0" fill="#1a1a1a" stroke="#1a1a1a" stroke-width="0.09" textLength="128.00" lengthAdjust="spacingAndGlyphs">do eiusmod tempor incididunt ut labore et dolore magna</text>
<text x="622.00" y="310.70" font-size="5.0" fill="#1a1a1a" stroke="#1a1a1a" stroke-width="0.09" textLength="128.50" lengthAdjust="spacingAndGlyphs">do eiusmod tempor incididunt ut labore et dolore magna</text>
<text x="451.00" y="316.80" font-size="5.0" fill="#1a1a1a" stroke="#1a1a1a" stroke-width="0.09" textLength="14.00" lengthAdjust="spacingAndGlyphs">aliqua.</text>
<text x="622.00" y="316.80" font-size="5.0" fill="#1a1a1a" stroke="#1a1a1a" stroke-width="0.09" textLength="14.00" lengthAdjust="spacingAndGlyphs">aliqua.</text>
<text x="601.00" y="182.70" font-size="6.4" fill="#111" text-anchor="middle" font-weight="bold" textLength="20.60" lengthAdjust="spacingAndGlyphs">VALUE</text>
<text x="600.80" y="198.60" font-size="10.0" fill="#111" text-anchor="middle" font-weight="bold" textLength="10.90" lengthAdjust="spacingAndGlyphs" stroke="#111" stroke-width=".25">01</text>
<text x="600.80" y="221.00" font-size="10.0" fill="#111" text-anchor="middle" font-weight="bold" textLength="10.90" lengthAdjust="spacingAndGlyphs" stroke="#111" stroke-width=".25">02</text>
<text x="600.80" y="243.10" font-size="10.0" fill="#111" text-anchor="middle" stroke="#111" stroke-width=".2" textLength="10.40" lengthAdjust="spacingAndGlyphs">03</text>
<text x="600.80" y="265.30" font-size="10.0" fill="#111" text-anchor="middle" font-weight="bold" textLength="10.90" lengthAdjust="spacingAndGlyphs" stroke="#111" stroke-width=".25">04</text>
<text x="600.80" y="288.00" font-size="10.0" fill="#111" text-anchor="middle" stroke="#111" stroke-width=".2" textLength="10.40" lengthAdjust="spacingAndGlyphs">05</text>
<rect x="622.00" y="175.00" width="128.50" height="123.00" fill="#ccc5b4"/>
<path d="M625,175V298" stroke="#f6f2e9" stroke-width="1.15" stroke-dasharray="2.1,1.1"/>
<path d="M622,187H730L738.2,195.4L730,203.8H622Z" fill="#fa6b89"/>
<path d="M622,253.8H730L738.2,262.2L730,270.6H622Z" fill="#5f5c60"/>
<path d="M625,187V203.8M625,253.8V270.6" stroke="#fdf3f4" stroke-width="1.15" stroke-dasharray="2.1,1.1"/>
<text x="628.20" y="197.90" font-size="6.3" fill="#fff" font-weight="bold" textLength="58.00" lengthAdjust="spacingAndGlyphs">Contemporary colors</text>
<text x="628.20" y="264.90" font-size="6.3" fill="#fff" font-weight="bold" textLength="58.00" lengthAdjust="spacingAndGlyphs">Contemporary colors</text>
<use href="#dna" x="705.20" y="177.60" width="19.60" height="21.40"/>
<use href="#micro" x="705.40" y="242.00" width="18.60" height="21.80"/>
<text x="628.20" y="212.00" font-size="5.0" fill="#1a1a1a" stroke="#1a1a1a" stroke-width="0.09" textLength="94.00" lengthAdjust="spacingAndGlyphs">Our user-friendly and functional search engine</text>
<text x="628.20" y="218.00" font-size="5.0" fill="#1a1a1a" stroke="#1a1a1a" stroke-width="0.09" textLength="73.50" lengthAdjust="spacingAndGlyphs">helps you locate the right templates,</text>
<text x="628.20" y="224.00" font-size="5.0" fill="#1a1a1a" stroke="#1a1a1a" stroke-width="0.09" textLength="56.50" lengthAdjust="spacingAndGlyphs">effectively saving your time.</text>
<text x="628.20" y="278.60" font-size="5.0" fill="#1a1a1a" stroke="#1a1a1a" stroke-width="0.09" textLength="94.00" lengthAdjust="spacingAndGlyphs">Our user-friendly and functional search engine</text>
<text x="628.20" y="284.60" font-size="5.0" fill="#1a1a1a" stroke="#1a1a1a" stroke-width="0.09" textLength="73.50" lengthAdjust="spacingAndGlyphs">helps you locate the right templates,</text>
<text x="628.20" y="290.60" font-size="5.0" fill="#1a1a1a" stroke="#1a1a1a" stroke-width="0.09" textLength="56.50" lengthAdjust="spacingAndGlyphs">effectively saving your time.</text>
<text x="86.20" y="417.90" font-size="15.9" fill="#45b0ae" font-weight="bold" textLength="227.00" lengthAdjust="spacingAndGlyphs">More choices and visual trends</text>
<text x="47.80" y="428.60" font-size="5.0" fill="#1a1a1a" stroke="#1a1a1a" stroke-width="0.09" textLength="304.50" lengthAdjust="spacingAndGlyphs">Lorem ipsum dolor sit amet, consectetur adipisicing elit, sed do eiusmod tempor incididunt ut labore et dolore magna aliqua. Ut enim</text>
<text x="47.80" y="435.10" font-size="5.0" fill="#1a1a1a" stroke="#1a1a1a" stroke-width="0.09" textLength="304.50" lengthAdjust="spacingAndGlyphs">ad minim veniam, quis nostrud exercitation ullamco laboris nisi ut aliquip ex ea commodo consequat. Duis aute irure dolor in</text>
<text x="47.80" y="441.60" font-size="5.0" fill="#1a1a1a" stroke="#1a1a1a" stroke-width="0.09" textLength="166.50" lengthAdjust="spacingAndGlyphs">reprehenderit in voluptate velit esse cillum dolore eu fugiat nulla pariatur.</text>
<g transform="translate(99.6,451.5)">
<clipPath id="pc0"><rect x="-20" y="48.72" width="40" height="33.48"/></clipPath>
<g clip-path="url(#pc0)" fill="#6fc6c8"><circle cx="0" cy="8.1" r="8.1"/><path d="M-6.9,18.0 H6.9 A12,12 0 0 1 18.9,30 V42.2 A4.2,4.2 0 0 1 10.5,42.2 V28.7 A.85,.85 0 0 0 8.8,28.7 V77.4 A3.72,3.72 0 0 1 1.35,77.4 V50.4 A1.35,1.35 0 0 0 -1.35,50.4 V77.4 A3.72,3.72 0 0 1 -8.8,77.4 V28.7 A.85,.85 0 0 0 -10.5,28.7 V42.2 A4.2,4.2 0 0 1 -18.9,42.2 V30 A12,12 0 0 1 -6.9,18.0Z"/></g>
<g fill="none" stroke="#454545" stroke-width=".95"><circle cx="0" cy="8.1" r="7.8"/><path d="M-6.9,18.0 H6.9 A12,12 0 0 1 18.9,30 V42.2 A4.2,4.2 0 0 1 10.5,42.2 V28.7 A.85,.85 0 0 0 8.8,28.7 V77.4 A3.72,3.72 0 0 1 1.35,77.4 V50.4 A1.35,1.35 0 0 0 -1.35,50.4 V77.4 A3.72,3.72 0 0 1 -8.8,77.4 V28.7 A.85,.85 0 0 0 -10.5,28.7 V42.2 A4.2,4.2 0 0 1 -18.9,42.2 V30 A12,12 0 0 1 -6.9,18.0Z"/></g>
</g>
<text x="99.15" y="544.9" text-anchor="middle" font-weight="bold" font-size="9.6" fill="#0a0a0a" stroke="#0a0a0a" stroke-width=".22" textLength="15.9" lengthAdjust="spacingAndGlyphs">40<tspan font-size="6.2">%</tspan></text>
<g transform="translate(149.6,451.5)">
<clipPath id="pc1"><rect x="-20" y="40.60" width="40" height="41.60"/></clipPath>
<g clip-path="url(#pc1)" fill="#6fc6c8"><circle cx="0" cy="8.1" r="8.1"/><path d="M-6.9,18.0 H6.9 A12,12 0 0 1 18.9,30 V42.2 A4.2,4.2 0 0 1 10.5,42.2 V28.7 A.85,.85 0 0 0 8.8,28.7 V77.4 A3.72,3.72 0 0 1 1.35,77.4 V50.4 A1.35,1.35 0 0 0 -1.35,50.4 V77.4 A3.72,3.72 0 0 1 -8.8,77.4 V28.7 A.85,.85 0 0 0 -10.5,28.7 V42.2 A4.2,4.2 0 0 1 -18.9,42.2 V30 A12,12 0 0 1 -6.9,18.0Z"/></g>
<g fill="none" stroke="#454545" stroke-width=".95"><circle cx="0" cy="8.1" r="7.8"/><path d="M-6.9,18.0 H6.9 A12,12 0 0 1 18.9,30 V42.2 A4.2,4.2 0 0 1 10.5,42.2 V28.7 A.85,.85 0 0 0 8.8,28.7 V77.4 A3.72,3.72 0 0 1 1.35,77.4 V50.4 A1.35,1.35 0 0 0 -1.35,50.4 V77.4 A3.72,3.72 0 0 1 -8.8,77.4 V28.7 A.85,.85 0 0 0 -10.5,28.7 V42.2 A4.2,4.2 0 0 1 -18.9,42.2 V30 A12,12 0 0 1 -6.9,18.0Z"/></g>
</g>
<text x="149.15" y="544.9" text-anchor="middle" font-weight="bold" font-size="9.6" fill="#0a0a0a" stroke="#0a0a0a" stroke-width=".22" textLength="15.9" lengthAdjust="spacingAndGlyphs">50<tspan font-size="6.2">%</tspan></text>
<g transform="translate(199.6,451.5)">
<clipPath id="pc2"><rect x="-20" y="23.55" width="40" height="58.65"/></clipPath>
<g clip-path="url(#pc2)" fill="#6fc6c8"><circle cx="0" cy="8.1" r="8.1"/><path d="M-6.9,18.0 H6.9 A12,12 0 0 1 18.9,30 V42.2 A4.2,4.2 0 0 1 10.5,42.2 V28.7 A.85,.85 0 0 0 8.8,28.7 V77.4 A3.72,3.72 0 0 1 1.35,77.4 V50.4 A1.35,1.35 0 0 0 -1.35,50.4 V77.4 A3.72,3.72 0 0 1 -8.8,77.4 V28.7 A.85,.85 0 0 0 -10.5,28.7 V42.2 A4.2,4.2 0 0 1 -18.9,42.2 V30 A12,12 0 0 1 -6.9,18.0Z"/></g>
<g fill="none" stroke="#454545" stroke-width=".95"><circle cx="0" cy="8.1" r="7.8"/><path d="M-6.9,18.0 H6.9 A12,12 0 0 1 18.9,30 V42.2 A4.2,4.2 0 0 1 10.5,42.2 V28.7 A.85,.85 0 0 0 8.8,28.7 V77.4 A3.72,3.72 0 0 1 1.35,77.4 V50.4 A1.35,1.35 0 0 0 -1.35,50.4 V77.4 A3.72,3.72 0 0 1 -8.8,77.4 V28.7 A.85,.85 0 0 0 -10.5,28.7 V42.2 A4.2,4.2 0 0 1 -18.9,42.2 V30 A12,12 0 0 1 -6.9,18.0Z"/></g>
</g>
<text x="199.15" y="544.9" text-anchor="middle" font-weight="bold" font-size="9.6" fill="#0a0a0a" stroke="#0a0a0a" stroke-width=".22" textLength="15.9" lengthAdjust="spacingAndGlyphs">70<tspan font-size="6.2">%</tspan></text>
<g transform="translate(249.6,451.5)">
<clipPath id="pc3"><rect x="-20" y="33.29" width="40" height="48.91"/></clipPath>
<g clip-path="url(#pc3)" fill="#6fc6c8"><circle cx="0" cy="8.1" r="8.1"/><path d="M-6.9,18.0 H6.9 A12,12 0 0 1 18.9,30 V42.2 A4.2,4.2 0 0 1 10.5,42.2 V28.7 A.85,.85 0 0 0 8.8,28.7 V77.4 A3.72,3.72 0 0 1 1.35,77.4 V50.4 A1.35,1.35 0 0 0 -1.35,50.4 V77.4 A3.72,3.72 0 0 1 -8.8,77.4 V28.7 A.85,.85 0 0 0 -10.5,28.7 V42.2 A4.2,4.2 0 0 1 -18.9,42.2 V30 A12,12 0 0 1 -6.9,18.0Z"/></g>
<g fill="none" stroke="#454545" stroke-width=".95"><circle cx="0" cy="8.1" r="7.8"/><path d="M-6.9,18.0 H6.9 A12,12 0 0 1 18.9,30 V42.2 A4.2,4.2 0 0 1 10.5,42.2 V28.7 A.85,.85 0 0 0 8.8,28.7 V77.4 A3.72,3.72 0 0 1 1.35,77.4 V50.4 A1.35,1.35 0 0 0 -1.35,50.4 V77.4 A3.72,3.72 0 0 1 -8.8,77.4 V28.7 A.85,.85 0 0 0 -10.5,28.7 V42.2 A4.2,4.2 0 0 1 -18.9,42.2 V30 A12,12 0 0 1 -6.9,18.0Z"/></g>
</g>
<text x="249.15" y="544.9" text-anchor="middle" font-weight="bold" font-size="9.6" fill="#0a0a0a" stroke="#0a0a0a" stroke-width=".22" textLength="15.9" lengthAdjust="spacingAndGlyphs">60<tspan font-size="6.2">%</tspan></text>
<g transform="translate(299.6,451.5)">
<clipPath id="pc4"><rect x="-20" y="7.71" width="40" height="74.49"/></clipPath>
<g clip-path="url(#pc4)" fill="#fa6b89"><circle cx="0" cy="8.1" r="8.1"/><path d="M-6.9,18.0 H6.9 A12,12 0 0 1 18.9,30 V42.2 A4.2,4.2 0 0 1 10.5,42.2 V28.7 A.85,.85 0 0 0 8.8,28.7 V77.4 A3.72,3.72 0 0 1 1.35,77.4 V50.4 A1.35,1.35 0 0 0 -1.35,50.4 V77.4 A3.72,3.72 0 0 1 -8.8,77.4 V28.7 A.85,.85 0 0 0 -10.5,28.7 V42.2 A4.2,4.2 0 0 1 -18.9,42.2 V30 A12,12 0 0 1 -6.9,18.0Z"/></g>
<g fill="none" stroke="#454545" stroke-width=".95"><circle cx="0" cy="8.1" r="7.8"/><path d="M-6.9,18.0 H6.9 A12,12 0 0 1 18.9,30 V42.2 A4.2,4.2 0 0 1 10.5,42.2 V28.7 A.85,.85 0 0 0 8.8,28.7 V77.4 A3.72,3.72 0 0 1 1.35,77.4 V50.4 A1.35,1.35 0 0 0 -1.35,50.4 V77.4 A3.72,3.72 0 0 1 -8.8,77.4 V28.7 A.85,.85 0 0 0 -10.5,28.7 V42.2 A4.2,4.2 0 0 1 -18.9,42.2 V30 A12,12 0 0 1 -6.9,18.0Z"/></g>
</g>
<text x="299.15" y="544.9" text-anchor="middle" font-weight="bold" font-size="9.6" fill="#0a0a0a" stroke="#0a0a0a" stroke-width=".22" textLength="15.9" lengthAdjust="spacingAndGlyphs">90<tspan font-size="6.2">%</tspan></text>
<path d="M556.4,416.5L646.4,416.5" stroke="#4a4a4a" stroke-width=".85" stroke-dasharray="2,.7"/>
<path d="M556.4,416.5L646.4,469.5" stroke="#4a4a4a" stroke-width=".85" stroke-dasharray="2,.7"/>
<path d="M556.4,416.5L646.4,521.5" stroke="#4a4a4a" stroke-width=".85" stroke-dasharray="2,.7"/>
<path d="M556.4,469.5L646.4,416.5" stroke="#4a4a4a" stroke-width=".85" stroke-dasharray="2,.7"/>
<path d="M556.4,469.5L646.4,469.5" stroke="#4a4a4a" stroke-width=".85" stroke-dasharray="2,.7"/>
<path d="M556.4,469.5L646.4,521.5" stroke="#4a4a4a" stroke-width=".85" stroke-dasharray="2,.7"/>
<path d="M556.4,521.5L646.4,416.5" stroke="#4a4a4a" stroke-width=".85" stroke-dasharray="2,.7"/>
<path d="M556.4,521.5L646.4,469.5" stroke="#4a4a4a" stroke-width=".85" stroke-dasharray="2,.7"/>
<path d="M556.4,521.5L646.4,521.5" stroke="#4a4a4a" stroke-width=".85" stroke-dasharray="2,.7"/>
<path d="M530,406.3 H546.6999999999999 A9.1,9.1 0 0 1 546.6999999999999,424.5 H530Z" fill="#fa6b89"/>
<rect x="446.90000000000003" y="406.90000000000003" width="108.29999999999994" height="17.0" rx="8.5" fill="none" stroke="#fa6b89" stroke-width="1.3"/>
<text x="526.20" y="417.30" font-size="6.9" fill="#fa6b89" text-anchor="end" font-weight="bold" textLength="44.00" lengthAdjust="spacingAndGlyphs">Stylish design</text>
<text x="526.20" y="432.00" font-size="5.0" fill="#1a1a1a" text-anchor="end" stroke="#1a1a1a" stroke-width="0.09" textLength="78.50" lengthAdjust="spacingAndGlyphs">Stylish templates can be a valuable</text>
<text x="526.20" y="438.10" font-size="5.0" fill="#1a1a1a" text-anchor="end" stroke="#1a1a1a" stroke-width="0.09" textLength="64.00" lengthAdjust="spacingAndGlyphs">aid to creative professionals.</text>
<use href="#dna" x="536.40" y="409.30" width="10.40" height="12.80"/>
<path d="M530,459.4 H546.6999999999999 A9.1,9.1 0 0 1 546.6999999999999,477.59999999999997 H530Z" fill="#45b0ae"/>
<rect x="446.90000000000003" y="460.0" width="108.29999999999994" height="17.0" rx="8.5" fill="none" stroke="#45b0ae" stroke-width="1.3"/>
<text x="526.20" y="470.40" font-size="6.9" fill="#45b0ae" text-anchor="end" font-weight="bold" textLength="44.00" lengthAdjust="spacingAndGlyphs">Stylish design</text>
<text x="526.20" y="485.10" font-size="5.0" fill="#1a1a1a" text-anchor="end" stroke="#1a1a1a" stroke-width="0.09" textLength="78.50" lengthAdjust="spacingAndGlyphs">Stylish templates can be a valuable</text>
<text x="526.20" y="491.20" font-size="5.0" fill="#1a1a1a" text-anchor="end" stroke="#1a1a1a" stroke-width="0.09" textLength="64.00" lengthAdjust="spacingAndGlyphs">aid to creative professionals.</text>
<use href="#eye" x="534.90" y="464.60" width="13.40" height="8.40"/>
<path d="M530,512.4 H546.6999999999999 A9.1,9.1 0 0 1 546.6999999999999,530.6 H530Z" fill="#5f5c60"/>
<rect x="446.90000000000003" y="513.0" width="108.29999999999994" height="17.0" rx="8.5" fill="none" stroke="#5f5c60" stroke-width="1.3"/>
<text x="526.20" y="523.40" font-size="6.9" fill="#5f5c60" text-anchor="end" font-weight="bold" textLength="44.00" lengthAdjust="spacingAndGlyphs">Stylish design</text>
<text x="526.20" y="538.10" font-size="5.0" fill="#1a1a1a" text-anchor="end" stroke="#1a1a1a" stroke-width="0.09" textLength="78.50" lengthAdjust="spacingAndGlyphs">Stylish templates can be a valuable</text>
<text x="526.20" y="544.20" font-size="5.0" fill="#1a1a1a" text-anchor="end" stroke="#1a1a1a" stroke-width="0.09" textLength="64.00" lengthAdjust="spacingAndGlyphs">aid to creative professionals.</text>
<use href="#micro" x="536.30" y="515.10" width="10.60" height="13.40"/>
<path d="M671.3,406.3 H654.1 A9.1,9.1 0 0 0 654.1,424.5 H671.3Z" fill="#5f5c60"/>
<rect x="645.6" y="406.90000000000003" width="109.40000000000002" height="17.0" rx="8.5" fill="none" stroke="#5f5c60" stroke-width="1.3"/>
<text x="675.60" y="417.30" font-size="6.9" fill="#5f5c60" font-weight="bold" textLength="44.00" lengthAdjust="spacingAndGlyphs">Stylish design</text>
<text x="675.60" y="432.00" font-size="5.0" fill="#1a1a1a" stroke="#1a1a1a" stroke-width="0.09" textLength="78.50" lengthAdjust="spacingAndGlyphs">Stylish templates can be a valuable</text>
<text x="675.60" y="438.10" font-size="5.0" fill="#1a1a1a" stroke="#1a1a1a" stroke-width="0.09" textLength="64.00" lengthAdjust="spacingAndGlyphs">aid to creative professionals.</text>
<use href="#flask" x="654.30" y="409.00" width="10.20" height="13.40"/>
<path d="M671.3,459.4 H654.1 A9.1,9.1 0 0 0 654.1,477.59999999999997 H671.3Z" fill="#fa6b89"/>
<rect x="645.6" y="460.0" width="109.40000000000002" height="17.0" rx="8.5" fill="none" stroke="#fa6b89" stroke-width="1.3"/>
<text x="675.60" y="470.40" font-size="6.9" fill="#fa6b89" font-weight="bold" textLength="44.00" lengthAdjust="spacingAndGlyphs">Stylish design</text>
<text x="675.60" y="485.10" font-size="5.0" fill="#1a1a1a" stroke="#1a1a1a" stroke-width="0.09" textLength="78.50" lengthAdjust="spacingAndGlyphs">Stylish templates can be a valuable</text>
<text x="675.60" y="491.20" font-size="5.0" fill="#1a1a1a" stroke="#1a1a1a" stroke-width="0.09" textLength="64.00" lengthAdjust="spacingAndGlyphs">aid to creative professionals.</text>
<use href="#tubes" x="652.70" y="463.60" width="13.40" height="10.40"/>
<path d="M671.3,512.4 H654.1 A9.1,9.1 0 0 0 654.1,530.6 H671.3Z" fill="#45b0ae"/>
<rect x="645.6" y="513.0" width="109.40000000000002" height="17.0" rx="8.5" fill="none" stroke="#45b0ae" stroke-width="1.3"/>
<text x="675.60" y="523.40" font-size="6.9" fill="#45b0ae" font-weight="bold" textLength="44.00" lengthAdjust="spacingAndGlyphs">Stylish design</text>
<text x="675.60" y="538.10" font-size="5.0" fill="#1a1a1a" stroke="#1a1a1a" stroke-width="0.09" textLength="78.50" lengthAdjust="spacingAndGlyphs">Stylish templates can be a valuable</text>
<text x="675.60" y="544.20" font-size="5.0" fill="#1a1a1a" stroke="#1a1a1a" stroke-width="0.09" textLength="64.00" lengthAdjust="spacingAndGlyphs">aid to creative professionals.</text>
<use href="#monitor" x="652.80" y="516.10" width="13.20" height="11.40"/>
<circle cx="556.3" cy="416.5" r="1.45" fill="#fff" stroke="#666" stroke-width=".5"/>
<circle cx="646.4" cy="416.5" r="1.45" fill="#fff" stroke="#666" stroke-width=".5"/>
<circle cx="556.3" cy="469.5" r="1.45" fill="#fff" stroke="#666" stroke-width=".5"/>
<circle cx="646.4" cy="469.5" r="1.45" fill="#fff" stroke="#666" stroke-width=".5"/>
<circle cx="556.3" cy="521.5" r="1.45" fill="#fff" stroke="#666" stroke-width=".5"/>
<circle cx="646.4" cy="521.5" r="1.45" fill="#fff" stroke="#666" stroke-width=".5"/>
<clipPath id="cap0"><rect x="38.4" y="641.2" width="66.7" height="125.79999999999995" rx="33.35"/></clipPath>
<g clip-path="url(#cap0)">
<rect x="38.40" y="641.20" width="66.70" height="62.60" fill="#d0c8b6"/>
<rect x="38.40" y="641.20" width="66.70" height="62.60" fill="url(#dots)"/>
<rect x="38.40" y="703.80" width="66.70" height="63.20" fill="#6fc6c8"/>
</g>
<clipPath id="cap1"><rect x="123.3" y="641.2" width="66.7" height="125.79999999999995" rx="33.35"/></clipPath>
<g clip-path="url(#cap1)">
<rect x="123.30" y="641.20" width="66.70" height="62.60" fill="#5f5c60"/>
<rect x="123.30" y="703.80" width="66.70" height="63.20" fill="#dcdcdc"/>
<rect x="123.30" y="703.80" width="66.70" height="63.20" fill="url(#dots)"/>
</g>
<clipPath id="cap2"><rect x="208.3" y="641.2" width="66.7" height="125.79999999999995" rx="33.35"/></clipPath>
<g clip-path="url(#cap2)">
<rect x="208.30" y="641.20" width="66.70" height="62.60" fill="#d0c8b6"/>
<rect x="208.30" y="641.20" width="66.70" height="62.60" fill="url(#dots)"/>
<rect x="208.30" y="703.80" width="66.70" height="63.20" fill="#fa6b89"/>
</g>
<clipPath id="cap3"><rect x="293.1" y="641.2" width="66.7" height="125.79999999999995" rx="33.35"/></clipPath>
<g clip-path="url(#cap3)">
<rect x="293.10" y="641.20" width="66.70" height="62.60" fill="#7081a8"/>
<rect x="293.10" y="703.80" width="66.70" height="63.20" fill="#dcdcdc"/>
<rect x="293.10" y="703.80" width="66.70" height="63.20" fill="url(#dots)"/>
</g>
<text x="71.70" y="657.00" font-size="5.3" fill="#111" text-anchor="middle" font-weight="bold" stroke="#111" stroke-width=".12" textLength="16.80" lengthAdjust="spacingAndGlyphs">VALUE</text>
<text x="71.50" y="668.10" font-size="11.8" fill="#0a0a0a" text-anchor="middle" font-weight="bold" textLength="13.60" lengthAdjust="spacingAndGlyphs" stroke="#0a0a0a" stroke-width=".08">01</text>
<use href="#eye" x="59.20" y="676.90" width="25.40" height="15.00"/>
<text x="71.90" y="723.00" font-size="7.0" fill="#fff" text-anchor="middle" font-weight="bold" textLength="49.50" lengthAdjust="spacingAndGlyphs">Stylish design</text>
<text x="71.90" y="734.80" font-size="5.0" fill="#eaf8f8" text-anchor="middle" textLength="49.50" lengthAdjust="spacingAndGlyphs">Stylish templates can</text>
<text x="71.90" y="740.80" font-size="5.0" fill="#eaf8f8" text-anchor="middle" textLength="46.00" lengthAdjust="spacingAndGlyphs">be a valuable aid to</text>
<text x="71.90" y="746.80" font-size="5.0" fill="#eaf8f8" text-anchor="middle" textLength="53.00" lengthAdjust="spacingAndGlyphs">creative professionals.</text>
<text x="156.70" y="666.80" font-size="5.0" fill="#ededed" text-anchor="middle" textLength="49.50" lengthAdjust="spacingAndGlyphs">Stylish templates can</text>
<text x="156.70" y="672.80" font-size="5.0" fill="#ededed" text-anchor="middle" textLength="46.00" lengthAdjust="spacingAndGlyphs">be a valuable aid to</text>
<text x="156.70" y="678.80" font-size="5.0" fill="#ededed" text-anchor="middle" textLength="53.00" lengthAdjust="spacingAndGlyphs">creative professionals.</text>
<text x="156.70" y="691.40" font-size="7.0" fill="#fff" text-anchor="middle" font-weight="bold" textLength="49.50" lengthAdjust="spacingAndGlyphs">Stylish design</text>
<use href="#tubes" x="145.10" y="713.70" width="23.20" height="18.20"/>
<text x="156.30" y="748.90" font-size="11.8" fill="#0a0a0a" text-anchor="middle" font-weight="bold" textLength="13.60" lengthAdjust="spacingAndGlyphs" stroke="#0a0a0a" stroke-width=".08">02</text>
<text x="156.50" y="756.00" font-size="5.3" fill="#111" text-anchor="middle" font-weight="bold" stroke="#111" stroke-width=".12" textLength="16.80" lengthAdjust="spacingAndGlyphs">VALUE</text>
<text x="241.50" y="657.00" font-size="5.3" fill="#111" text-anchor="middle" font-weight="bold" stroke="#111" stroke-width=".12" textLength="16.80" lengthAdjust="spacingAndGlyphs">VALUE</text>
<text x="241.30" y="668.10" font-size="11.8" fill="#0a0a0a" text-anchor="middle" font-weight="bold" textLength="13.60" lengthAdjust="spacingAndGlyphs" stroke="#0a0a0a" stroke-width=".08">03</text>
<use href="#books" x="231.60" y="677.90" width="20.20" height="15.40"/>
<text x="241.70" y="723.00" font-size="7.0" fill="#fff" text-anchor="middle" font-weight="bold" textLength="49.50" lengthAdjust="spacingAndGlyphs">Stylish design</text>
<text x="241.70" y="734.80" font-size="5.0" fill="#eaf8f8" text-anchor="middle" textLength="49.50" lengthAdjust="spacingAndGlyphs">Stylish templates can</text>
<text x="241.70" y="740.80" font-size="5.0" fill="#eaf8f8" text-anchor="middle" textLength="46.00" lengthAdjust="spacingAndGlyphs">be a valuable aid to</text>
<text x="241.70" y="746.80" font-size="5.0" fill="#eaf8f8" text-anchor="middle" textLength="53.00" lengthAdjust="spacingAndGlyphs">creative professionals.</text>
<text x="326.50" y="666.80" font-size="5.0" fill="#ededed" text-anchor="middle" textLength="49.50" lengthAdjust="spacingAndGlyphs">Stylish templates can</text>
<text x="326.50" y="672.80" font-size="5.0" fill="#ededed" text-anchor="middle" textLength="46.00" lengthAdjust="spacingAndGlyphs">be a valuable aid to</text>
<text x="326.50" y="678.80" font-size="5.0" fill="#ededed" text-anchor="middle" textLength="53.00" lengthAdjust="spacingAndGlyphs">creative professionals.</text>
<text x="326.50" y="691.40" font-size="7.0" fill="#fff" text-anchor="middle" font-weight="bold" textLength="49.50" lengthAdjust="spacingAndGlyphs">Stylish design</text>
<use href="#micro" x="317.95" y="710.90" width="17.10" height="20.00"/>
<text x="326.10" y="748.90" font-size="11.8" fill="#0a0a0a" text-anchor="middle" font-weight="bold" textLength="13.60" lengthAdjust="spacingAndGlyphs" stroke="#0a0a0a" stroke-width=".08">04</text>
<text x="326.30" y="756.00" font-size="5.3" fill="#111" text-anchor="middle" font-weight="bold" stroke="#111" stroke-width=".12" textLength="16.80" lengthAdjust="spacingAndGlyphs">VALUE</text>
<text x="437.70" y="659.90" font-size="22.5" fill="#45b0ae" font-weight="bold" textLength="23.80" lengthAdjust="spacingAndGlyphs">01</text>
<text x="464.60" y="647.30" font-size="6.9" fill="#45b0ae" font-weight="bold" textLength="66.30" lengthAdjust="spacingAndGlyphs">Contemporary colors</text>
<text x="464.60" y="654.80" font-size="5.3" fill="#1a1a1a" stroke="#1a1a1a" stroke-width="0.09" textLength="58.00" lengthAdjust="spacingAndGlyphs">Stylish templates can be a</text>
<text x="464.60" y="661.35" font-size="5.3" fill="#1a1a1a" stroke="#1a1a1a" stroke-width="0.09" textLength="51.50" lengthAdjust="spacingAndGlyphs">valuable aid to creative</text>
<text x="464.60" y="667.90" font-size="5.3" fill="#1a1a1a" stroke="#1a1a1a" stroke-width="0.09" textLength="30.00" lengthAdjust="spacingAndGlyphs">professionals.</text>
<text x="437.70" y="702.90" font-size="22.5" fill="#fa6b89" font-weight="bold" textLength="23.80" lengthAdjust="spacingAndGlyphs">02</text>
<text x="464.60" y="690.30" font-size="6.9" fill="#fa6b89" font-weight="bold" textLength="66.30" lengthAdjust="spacingAndGlyphs">Contemporary colors</text>
<text x="464.60" y="697.80" font-size="5.3" fill="#1a1a1a" stroke="#1a1a1a" stroke-width="0.09" textLength="58.00" lengthAdjust="spacingAndGlyphs">Stylish templates can be a</text>
<text x="464.60" y="704.35" font-size="5.3" fill="#1a1a1a" stroke="#1a1a1a" stroke-width="0.09" textLength="51.50" lengthAdjust="spacingAndGlyphs">valuable aid to creative</text>
<text x="464.60" y="710.90" font-size="5.3" fill="#1a1a1a" stroke="#1a1a1a" stroke-width="0.09" textLength="30.00" lengthAdjust="spacingAndGlyphs">professionals.</text>
<text x="437.70" y="745.90" font-size="22.5" fill="#45b0ae" font-weight="bold" textLength="23.80" lengthAdjust="spacingAndGlyphs">03</text>
<text x="464.60" y="733.30" font-size="6.9" fill="#45b0ae" font-weight="bold" textLength="66.30" lengthAdjust="spacingAndGlyphs">Contemporary colors</text>
<text x="464.60" y="740.80" font-size="5.3" fill="#1a1a1a" stroke="#1a1a1a" stroke-width="0.09" textLength="58.00" lengthAdjust="spacingAndGlyphs">Stylish templates can be a</text>
<text x="464.60" y="747.35" font-size="5.3" fill="#1a1a1a" stroke="#1a1a1a" stroke-width="0.09" textLength="51.50" lengthAdjust="spacingAndGlyphs">valuable aid to creative</text>
<text x="464.60" y="753.90" font-size="5.3" fill="#1a1a1a" stroke="#1a1a1a" stroke-width="0.09" textLength="30.00" lengthAdjust="spacingAndGlyphs">professionals.</text>
<text x="739.30" y="660.00" font-size="22.5" fill="#7081a8" font-weight="bold" textLength="24.60" lengthAdjust="spacingAndGlyphs">04</text>
<text x="737.40" y="647.30" font-size="6.9" fill="#7081a8" text-anchor="end" font-weight="bold" textLength="67.20" lengthAdjust="spacingAndGlyphs">Contemporary colors</text>
<text x="737.40" y="654.80" font-size="5.3" fill="#1a1a1a" text-anchor="end" stroke="#1a1a1a" stroke-width="0.09" textLength="58.00" lengthAdjust="spacingAndGlyphs">Stylish templates can be a</text>
<text x="737.40" y="661.35" font-size="5.3" fill="#1a1a1a" text-anchor="end" stroke="#1a1a1a" stroke-width="0.09" textLength="51.50" lengthAdjust="spacingAndGlyphs">valuable aid to creative</text>
<text x="737.40" y="667.90" font-size="5.3" fill="#1a1a1a" text-anchor="end" stroke="#1a1a1a" stroke-width="0.09" textLength="30.00" lengthAdjust="spacingAndGlyphs">professionals.</text>
<text x="739.30" y="703.00" font-size="22.5" fill="#45b0ae" font-weight="bold" textLength="24.60" lengthAdjust="spacingAndGlyphs">05</text>
<text x="737.40" y="690.30" font-size="6.9" fill="#45b0ae" text-anchor="end" font-weight="bold" textLength="67.20" lengthAdjust="spacingAndGlyphs">Contemporary colors</text>
<text x="737.40" y="697.80" font-size="5.3" fill="#1a1a1a" text-anchor="end" stroke="#1a1a1a" stroke-width="0.09" textLength="58.00" lengthAdjust="spacingAndGlyphs">Stylish templates can be a</text>
<text x="737.40" y="704.35" font-size="5.3" fill="#1a1a1a" text-anchor="end" stroke="#1a1a1a" stroke-width="0.09" textLength="51.50" lengthAdjust="spacingAndGlyphs">valuable aid to creative</text>
<text x="737.40" y="710.90" font-size="5.3" fill="#1a1a1a" text-anchor="end" stroke="#1a1a1a" stroke-width="0.09" textLength="30.00" lengthAdjust="spacingAndGlyphs">professionals.</text>
<text x="739.30" y="745.60" font-size="22.5" fill="#5f5c60" font-weight="bold" textLength="24.60" lengthAdjust="spacingAndGlyphs">06</text>
<text x="737.40" y="732.90" font-size="6.9" fill="#5f5c60" text-anchor="end" font-weight="bold" textLength="67.20" lengthAdjust="spacingAndGlyphs">Contemporary colors</text>
<text x="737.40" y="740.40" font-size="5.3" fill="#1a1a1a" text-anchor="end" stroke="#1a1a1a" stroke-width="0.09" textLength="58.00" lengthAdjust="spacingAndGlyphs">Stylish templates can be a</text>
<text x="737.40" y="746.95" font-size="5.3" fill="#1a1a1a" text-anchor="end" stroke="#1a1a1a" stroke-width="0.09" textLength="51.50" lengthAdjust="spacingAndGlyphs">valuable aid to creative</text>
<text x="737.40" y="753.50" font-size="5.3" fill="#1a1a1a" text-anchor="end" stroke="#1a1a1a" stroke-width="0.09" textLength="30.00" lengthAdjust="spacingAndGlyphs">professionals.</text>
<path d="M583.75,653.7 A9.03,9.03 0 0 1 583.75,635.65 H618.25 A9.03,9.03 0 0 1 618.25,653.7 V691.7 L649.9,748 Q662.7,770.75 640,770.75 H562 Q539.3,770.75 552.1,748 L583.75,691.7Z" fill="none" stroke="#7d7d7d" stroke-width="3.7" stroke-linejoin="miter"/>
<clipPath id="fin"><path d="M594.2,690 H607.8 L645.6,755.5 Q650.4,763.7 642.5,763.7 H559.5 Q551.6,763.7 556.4,755.5Z"/></clipPath>
<g clip-path="url(#fin)">
<rect x="540.00" y="690.00" width="59.80" height="23.40" fill="#45b0ae"/>
<rect x="602.00" y="690.00" width="60.00" height="23.40" fill="#7081a8"/>
<rect x="540.00" y="715.50" width="59.80" height="23.10" fill="#fa6b89"/>
<rect x="602.00" y="715.50" width="60.00" height="23.10" fill="#6fc6c8"/>
<rect x="540.00" y="741.00" width="59.80" height="22.80" fill="#45b0ae"/>
<rect x="602.00" y="741.00" width="60.00" height="22.80" fill="#5f5c60"/>
</g>
<use href="#dna" x="589.20" y="701.30" width="8.00" height="9.20"/>
<use href="#flask" x="606.00" y="700.40" width="7.60" height="9.80"/>
<use href="#micro" x="586.20" y="720.40" width="10.00" height="12.20"/>
<use href="#monitor" x="605.80" y="722.00" width="10.00" height="8.40"/>
<use href="#eye" x="586.20" y="748.20" width="11.00" height="6.80"/>
<use href="#tubes" x="605.40" y="747.20" width="10.80" height="8.60"/>
<rect x="398.50" y="0.00" width="3.00" height="800.00" fill="#7d7d7d"/>
<rect x="0.00" y="104.50" width="800.00" height="3.25" fill="#7d7d7d"/>
<rect x="0.00" y="331.85" width="800.00" height="3.25" fill="#7d7d7d"/>
<rect x="0.00" y="559.20" width="800.00" height="3.25" fill="#7d7d7d"/>
<rect x="0.00" y="786.55" width="800.00" height="3.25" fill="#7d7d7d"/>
</svg>
</body></html>
